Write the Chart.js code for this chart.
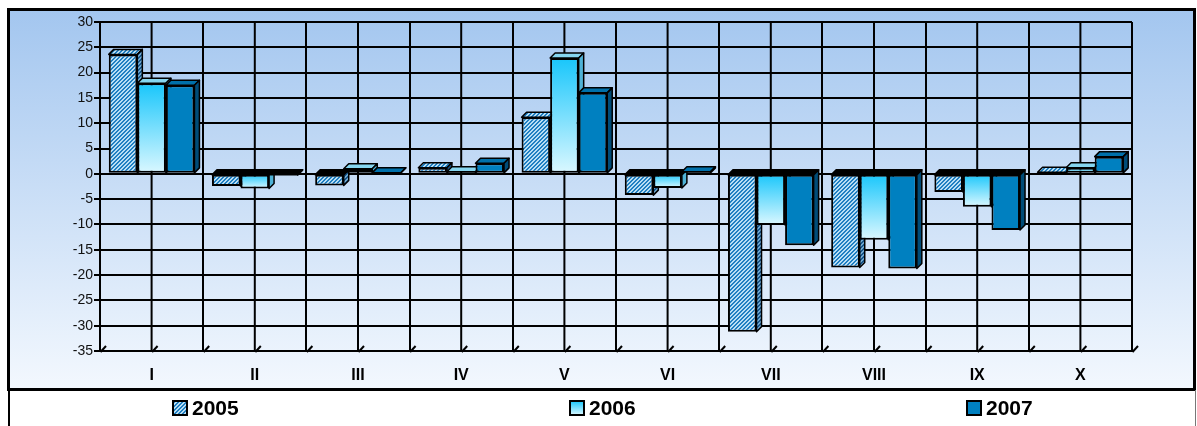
<!DOCTYPE html>
<html>
<head>
<meta charset="utf-8">
<script src="https://cdn.jsdelivr.net/npm/chart.js@4/dist/chart.umd.min.js"></script>
<style>
  html, body { margin: 0; padding: 0; background: #ffffff; }
  canvas { display: block; }
</style>
</head>
<body>
<canvas id="c" width="1197" height="426"></canvas>
<script>
// ---- data ----
const categories = ['I', 'II', 'III', 'IV', 'V', 'VI', 'VII', 'VIII', 'IX', 'X'];
const seriesLabels = ['2005', '2006', '2007'];
const values2005 = [23.6, -2.4, -2.3, 1.2, 11.2, -4.2, -31.2, -18.5, -3.6, 0.3];
const values2006 = [17.9, -2.9, 1.0, 0.4, 22.9, -2.8, -10.1, -13.0, -6.5, 1.2];
const values2007 = [17.5, -0.2, 0.2, 2.1, 16.0, 0.4, -14.1, -18.7, -11.1, 3.4];
const yMin = -35, yMax = 30, yStep = 5;

const FONT = "'Liberation Sans', Arial, sans-serif";
const DEPTH = 5;

// ---- fills ----
function makeHatch(dark, light) {
  const c = document.createElement('canvas');
  c.width = 4; c.height = 4;
  const g = c.getContext('2d');
  g.fillStyle = light; g.fillRect(0, 0, 4, 4);
  g.fillStyle = dark;
  for (let i = 0; i < 4; i++) {
    g.fillRect(i, 3 - i, 1, 1);
    g.fillRect((i + 1) % 4, 3 - i, 1, 1);
  }
  return g.createPattern(c, 'repeat');
}
const ctxMain = document.getElementById('c').getContext('2d');
const hatchFront = makeHatch('#1f7fc2', '#b8def4');
const hatchSide = makeHatch('#16558a', '#6fa8d0');

function cyanGradient(chartCtx, top, bot) {
  const g = chartCtx.createLinearGradient(0, top, 0, bot + 0.01);
  g.addColorStop(0, '#18c6fb');
  g.addColorStop(1, '#dcf8ff');
  return g;
}

const gradientFill = function (ctx) {
  const chart = ctx.chart;
  if (!chart.chartArea || ctx.type !== 'data' || !chart.scales.y) return '#7fdcff';
  const ys = chart.scales.y;
  const y0 = ys.getPixelForValue(0);
  const y1 = ys.getPixelForValue(ctx.parsed.y);
  return cyanGradient(chart.ctx, Math.min(y0, y1), Math.max(y0, y1));
};

const faceStyles = [
  { top: hatchFront, side: hatchSide, legend: hatchFront },
  { top: '#86d6f0', side: '#4fb2d6', legend: null },
  { top: '#0070aa', side: '#004c78', legend: '#0080c0' }
];

// ---- plugins ----
const backgroundPlugin = {
  id: 'bg',
  beforeDraw(chart) {
    const c = chart.ctx;
    c.save();
    const g = c.createLinearGradient(0, 9, 0, 389);
    g.addColorStop(0, '#a3c6ef');
    g.addColorStop(1, '#f3f8fe');
    c.fillStyle = g;
    c.fillRect(8, 9, 1187, 380);
    c.fillStyle = '#ffffff';
    c.fillRect(8, 390, 1188, 40);
    c.strokeStyle = '#000';
    c.lineWidth = 3;
    c.strokeRect(8.5, 9.5, 1186, 380);
    c.lineWidth = 2;
    c.beginPath();
    c.moveTo(9, 390); c.lineTo(9, 430);
    c.stroke();
    c.strokeStyle = '#777';
    c.lineWidth = 1;
    c.beginPath();
    c.moveTo(1195.5, 390); c.lineTo(1195.5, 430);
    c.stroke();
    c.restore();
  }
};

const depthPlugin = {
  id: 'depth',
  beforeDatasetsDraw(chart) {
    const c = chart.ctx;
    const xs = chart.scales.x, area = chart.chartArea;
    c.save();
    // centre gridlines and floor marks
    c.strokeStyle = '#000';
    c.lineWidth = 2;
    for (let i = 0; i < categories.length; i++) {
      const xc = xs.getPixelForValue(i);
      c.beginPath();
      c.moveTo(xc, area.top); c.lineTo(xc, area.bottom);
      c.stroke();
    }
    for (let i = 0; i <= categories.length * 2; i++) {
      const xv = xs.getPixelForValue(i / 2 - 0.5);
      c.beginPath();
      c.moveTo(xv + 0.5, area.bottom + 1); c.lineTo(xv + 6, area.bottom - 5);
      c.stroke();
    }
    // 3D faces
    c.lineWidth = 1.5;
    c.lineJoin = 'round';
    chart.data.datasets.forEach((ds, di) => {
      const meta = chart.getDatasetMeta(di);
      meta.data.forEach((el, idx) => {
        const p = el.getProps(['x', 'y', 'base', 'width'], true);
        const negative = ds.data[idx] < 0;
        const x1 = p.x - p.width / 2, x2 = p.x + p.width / 2;
        const yT = Math.min(p.y, p.base), yB = Math.max(p.y, p.base);
        // top face
        c.beginPath();
        c.moveTo(x1, yT); c.lineTo(x1 + DEPTH, yT - DEPTH);
        c.lineTo(x2 + DEPTH, yT - DEPTH); c.lineTo(x2, yT); c.closePath();
        c.fillStyle = negative ? '#000' : faceStyles[di].top;
        c.fill(); c.stroke();
        // side face
        c.beginPath();
        c.moveTo(x2, yT); c.lineTo(x2 + DEPTH, yT - DEPTH);
        c.lineTo(x2 + DEPTH, yB - DEPTH); c.lineTo(x2, yB); c.closePath();
        c.fillStyle = faceStyles[di].side;
        c.fill(); c.stroke();
      });
    });
    c.restore();
  }
};

const legendStarts = [173, 570, 967];
const legendPlugin = {
  id: 'customLegend',
  afterDraw(chart) {
    const c = chart.ctx;
    c.save();
    chart.data.datasets.forEach((ds, di) => {
      const x0 = legendStarts[di];
      const yTop = 401, size = 14;
      let fill = faceStyles[di].legend;
      if (!fill) fill = cyanGradient(c, yTop, yTop + size);
      c.fillStyle = fill;
      c.fillRect(x0, yTop, size, size);
      c.strokeStyle = '#000';
      c.lineWidth = 2;
      c.strokeRect(x0, yTop, size, size);
      c.fillStyle = '#000';
      c.font = 'bold 21px ' + FONT;
      c.textBaseline = 'middle';
      c.textAlign = 'left';
      c.fillText(ds.label, x0 + 19, yTop + size / 2 + 1);
    });
    c.restore();
  }
};

// ---- chart ----
new Chart(ctxMain, {
  type: 'bar',
  data: {
    labels: categories,
    datasets: [
      { label: seriesLabels[0], data: values2005, backgroundColor: hatchFront },
      { label: seriesLabels[1], data: values2006, backgroundColor: gradientFill },
      { label: seriesLabels[2], data: values2007, backgroundColor: '#0080c0' }
    ]
  },
  options: {
    responsive: false,
    animation: false,
    events: [],
    datasets: {
      bar: {
        borderColor: '#000',
        borderWidth: 2,
        borderSkipped: false,
        categoryPercentage: 0.83,
        barPercentage: 1.0
      }
    },
    layout: { padding: { left: 8, top: 22, right: 65, bottom: 37 } },
    plugins: {
      legend: { display: false },
      tooltip: { enabled: false }
    },
    scales: {
      x: {
        grid: { offset: true, color: '#000', lineWidth: 2, drawTicks: false },
        border: { color: '#000', width: 2 },
        ticks: { color: '#000', font: { family: FONT, size: 16, weight: 'bold' }, padding: 15 },
        afterFit(s) { s.height = 38; }
      },
      y: {
        min: yMin, max: yMax,
        ticks: { stepSize: yStep, color: '#111', font: { family: FONT, size: 14 }, padding: 1 },
        grid: { color: '#000', lineWidth: 2, tickLength: 6 },
        border: { color: '#000', width: 2 },
        afterFit(s) { s.width = 92; }
      }
    }
  },
  plugins: [backgroundPlugin, depthPlugin, legendPlugin]
});
</script>
</body>
</html>
